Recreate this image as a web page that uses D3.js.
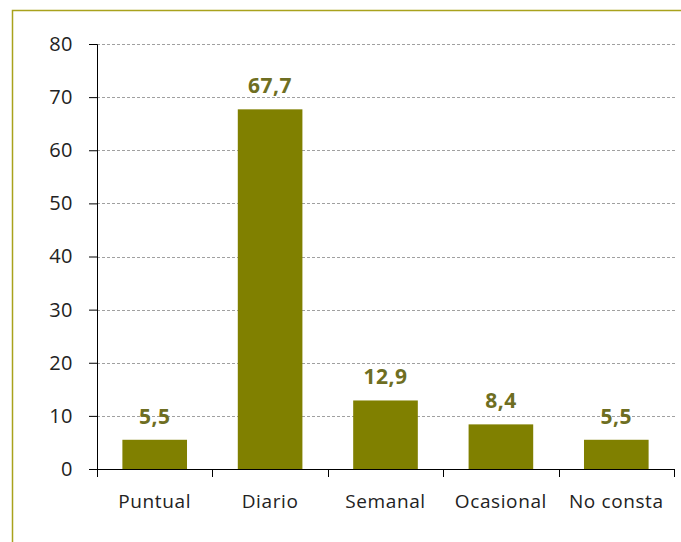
<!DOCTYPE html>
<html>
<head>
<meta charset="utf-8">
<script src="https://cdn.jsdelivr.net/npm/d3@7"></script>
<style>
  body { margin: 0; background: #fff; }
  .tick text { font-family: "Open Sans", "Liberation Sans", sans-serif; fill: #222; }
</style>
</head>
<body>
<div class="chart"></div>
<script>
// data
var categories = ["Puntual", "Diario", "Semanal", "Ocasional", "No consta"];
var values = [5.5, 67.7, 12.9, 8.4, 5.5];
var yTicks = [0, 10, 20, 30, 40, 50, 60, 70, 80];

var svgWidth = 681, svgHeight = 542;
var margin = { top: 44, left: 97, right: 7, bottom: 73 };
var width = svgWidth - margin.left - margin.right;
var height = svgHeight - margin.top - margin.bottom;

var svg = d3.select(".chart").append("svg")
  .attr("width", svgWidth)
  .attr("height", svgHeight);

// outer frame (only top and left visible)
svg.append("path")
  .attr("d", "M12.5,560 V10.5 H700")
  .attr("fill", "none")
  .attr("stroke", "#a9a21c")
  .attr("stroke-width", 1.5);

var chartGroup = svg.append("g")
  .attr("transform", `translate(${margin.left}, ${margin.top})`);

var xScale = d3.scaleBand()
  .domain(categories)
  .range([0, width])
  .paddingInner(0.44)
  .paddingOuter(0.22);

var yScale = d3.scaleLinear()
  .domain([0, 80])
  .range([height, 0]);

// gridlines
chartGroup.selectAll(".grid")
  .data(yTicks.slice(1))
  .enter()
  .append("line")
  .attr("x1", 0)
  .attr("x2", width + 2)
  .attr("y1", d => Math.round(yScale(d)) + 0.5)
  .attr("y2", d => Math.round(yScale(d)) + 0.5)
  .attr("stroke", "#a0a0a0")
  .attr("stroke-dasharray", "3,2");

// y axis
var yAxis = d3.axisLeft(yScale).tickValues(yTicks).tickSize(8).tickPadding(16);
var yG = chartGroup.append("g").call(yAxis);
yG.select(".domain").attr("stroke", "#000");
yG.selectAll(".tick line").attr("stroke", "#000");
yG.selectAll(".tick text").attr("font-size", 20).attr("letter-spacing", "0.5px");

// bars
chartGroup.selectAll(".bar")
  .data(values)
  .enter()
  .append("rect")
  .attr("x", (d, i) => xScale(categories[i]))
  .attr("y", d => yScale(d))
  .attr("width", xScale.bandwidth())
  .attr("height", d => height - yScale(d))
  .attr("fill", "#808000");

// value labels
chartGroup.selectAll(".val")
  .data(values)
  .enter()
  .append("text")
  .attr("x", (d, i) => xScale(categories[i]) + xScale.bandwidth() / 2)
  .attr("y", d => yScale(d) - 16)
  .attr("text-anchor", "middle")
  .attr("font-family", "'Open Sans', 'Liberation Sans', sans-serif")
  .attr("font-weight", "bold")
  .attr("font-size", 21)
  .attr("letter-spacing", "0.5px")
  .attr("fill", "#6e6e22")
  .text(d => String(d).replace(".", ","));

// x axis with ticks at category boundaries
var xG = chartGroup.append("g")
  .attr("transform", `translate(0, ${height})`);
xG.append("line")
  .attr("x1", 0).attr("x2", width)
  .attr("y1", 0.5).attr("y2", 0.5)
  .attr("stroke", "#000");
var bounds = d3.range(categories.length + 1).map(i => i * width / categories.length);
xG.selectAll(".btick")
  .data(bounds)
  .enter()
  .append("line")
  .attr("x1", d => Math.round(d) + 0.5)
  .attr("x2", d => Math.round(d) + 0.5)
  .attr("y1", 0)
  .attr("y2", 8)
  .attr("stroke", "#000");
xG.selectAll(".xlab")
  .data(categories)
  .enter()
  .append("text")
  .attr("x", d => xScale(d) + xScale.bandwidth() / 2)
  .attr("y", 39)
  .attr("text-anchor", "middle")
  .attr("font-family", "'Open Sans', 'Liberation Sans', sans-serif")
  .attr("font-size", 19)
  .attr("letter-spacing", "0.6px")
  .attr("fill", "#222")
  .text(d => d);
</script>
</body>
</html>
